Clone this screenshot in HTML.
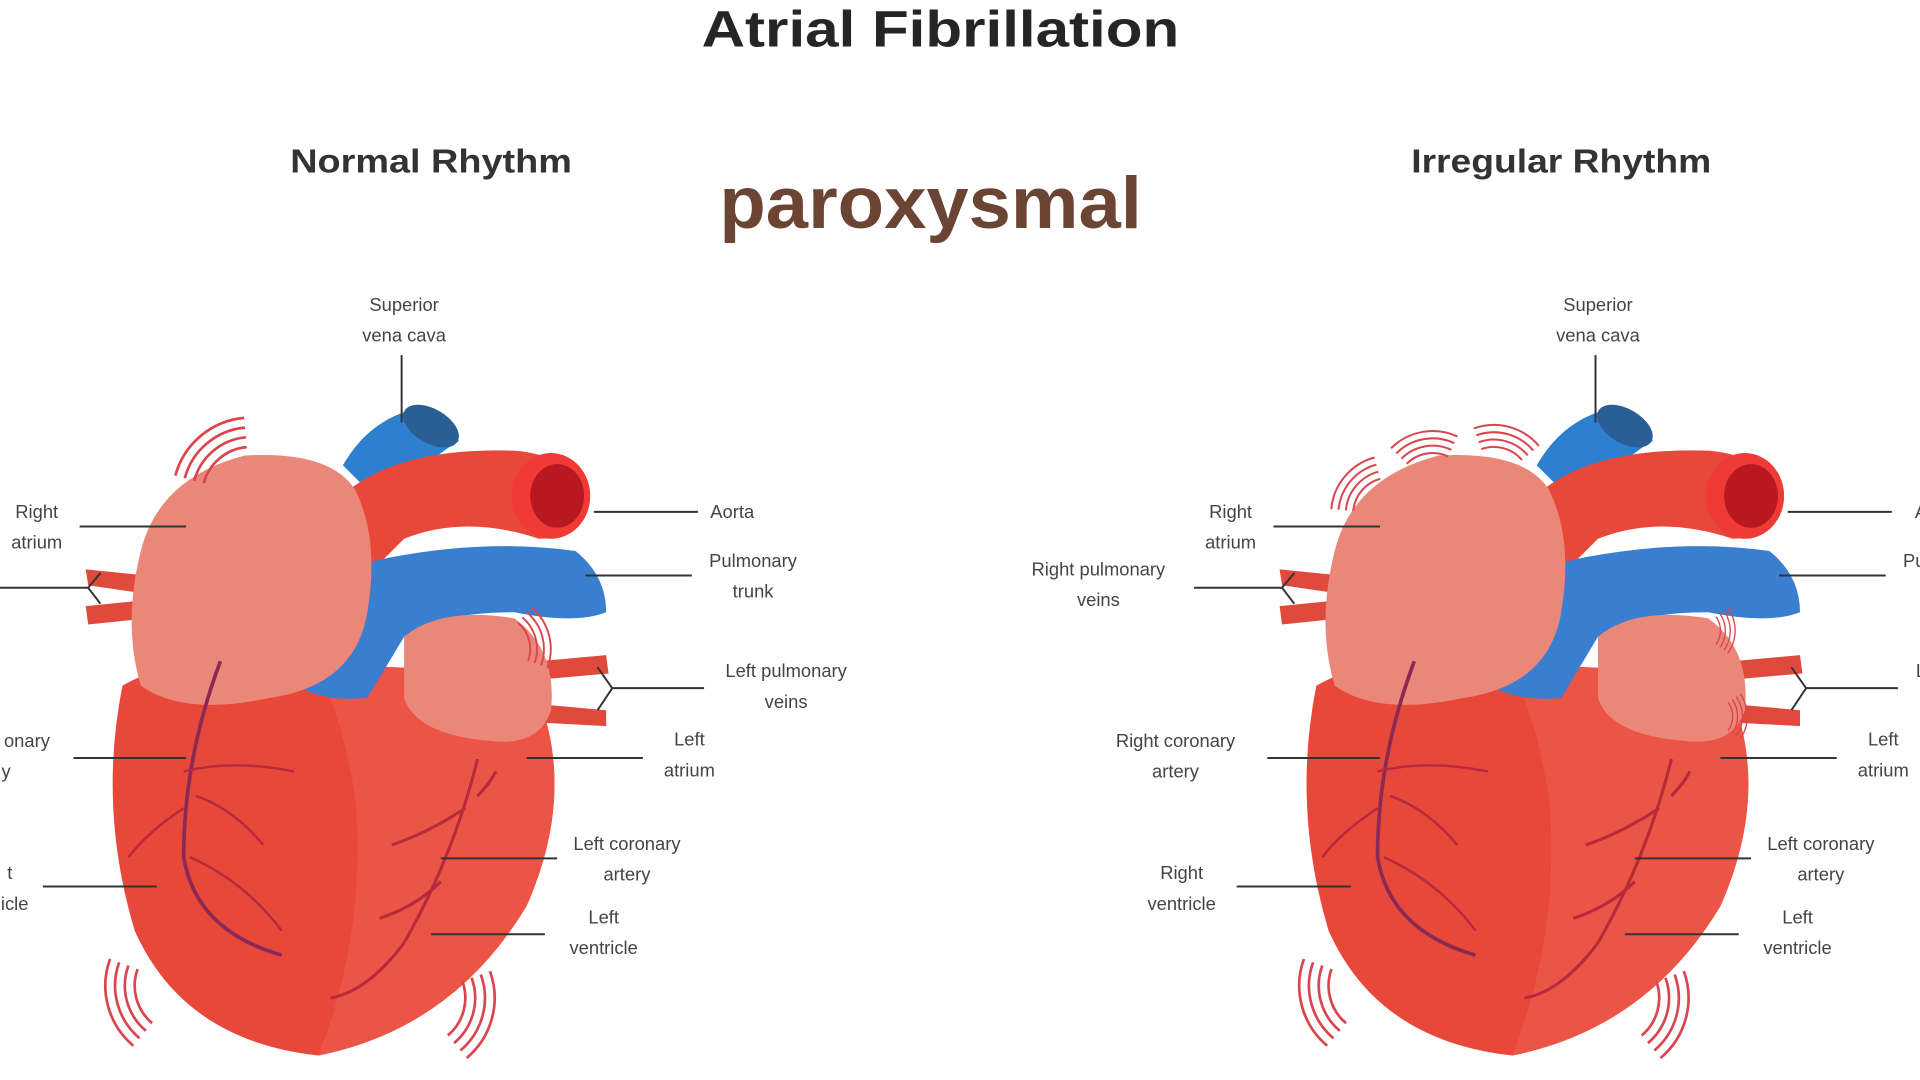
<!DOCTYPE html>
<html><head><meta charset="utf-8"><style>
html,body{margin:0;padding:0;background:#fff;width:1920px;height:1080px;overflow:hidden}
svg{display:block}
text{font-family:"Liberation Sans",sans-serif}
.l{font-size:15px;fill:#444;text-anchor:middle}
.ln{stroke:#333;stroke-width:1.6;fill:none}
.w{stroke:#d9464e;stroke-width:2.2;fill:none}
</style></head><body>
<svg width="1920" height="1080" viewBox="0 0 1568 882" xmlns="http://www.w3.org/2000/svg">
<defs>
<g id="heart">
  <path d="M70 465 L120 470 L120 485 L72 478Z" fill="#e04a3c"/>
  <path d="M70 495 L120 490 L120 505 L72 510Z" fill="#e04a3c"/>
  <path d="M440 540 L495 535 L497 550 L440 555Z" fill="#e04a3c"/>
  <path d="M440 575 L495 580 L495 593 L440 590Z" fill="#e04a3c"/>
  <path d="M280 380 Q300 345 335 335 L375 360 Q340 380 320 420Z" fill="#2f7fd0"/>
  <ellipse cx="352" cy="348" rx="25" ry="14" transform="rotate(30 352 348)" fill="#2a5f96"/>
  <path d="M100 560 Q150 530 260 545 Q380 540 440 570 Q470 650 430 740 Q370 840 260 862 Q150 850 110 760 Q80 660 100 560Z" fill="#e8483a"/>
  <path d="M260 545 Q380 540 440 570 Q470 650 430 740 Q370 840 260 862 Q300 760 290 650 Q280 590 260 545Z" fill="#ec5545"/>
  <path d="M285 400 Q330 365 420 368 Q470 372 480 410 Q470 440 440 440 Q380 420 330 440 L300 470Z" fill="#e8483a"/>
  <ellipse cx="450" cy="405" rx="32" ry="35" fill="#f03a36"/>
  <ellipse cx="455" cy="405" rx="22" ry="26" fill="#b81820"/>
  <path d="M225 545 Q240 470 320 455 Q400 440 470 450 Q495 470 495 500 Q470 510 420 500 Q360 500 330 520 L300 570 Q250 575 225 545Z" fill="#3a7fcf"/>
  <path d="M115 450 Q130 390 200 372 Q270 368 290 400 Q310 440 300 500 Q290 560 220 570 Q150 585 115 560 Q100 510 115 450Z" fill="#eb8779"/>
  <path d="M330 520 Q360 495 420 505 Q455 530 450 580 Q440 610 400 605 Q340 600 330 570Z" fill="#eb8779"/>
  <path d="M180 540 Q150 620 150 700 Q160 760 230 780" stroke="#8a2a54" stroke-width="3" fill="none"/>
  <path d="M150 630 Q190 620 240 630 M155 700 Q200 720 230 760 M160 650 Q190 660 215 690 M150 660 Q120 680 105 700" stroke="#b52a3c" stroke-width="2" fill="none"/>
  <path d="M390 620 Q370 700 330 770 Q300 810 270 815 M380 660 Q350 680 320 690 M360 720 Q340 740 310 750 M390 650 Q400 640 405 630" stroke="#b52a3c" stroke-width="2.5" fill="none"/>
</g>
<g id="waves">
  <path class="w" d="M32.8 -22.9 A40 40 0 0 1 32.8 22.9"/>
  <path class="w" d="M39.3 -27.6 A48 48 0 0 1 39.3 27.6"/>
  <path class="w" d="M45.9 -32.1 A56 56 0 0 1 45.9 32.1"/>
  <path class="w" d="M52.4 -36.7 A64 64 0 0 1 52.4 36.7"/>
</g>
</defs>

<text x="768" y="38" text-anchor="middle" font-size="42" font-weight="bold" fill="#252525" textLength="390" lengthAdjust="spacingAndGlyphs">Atrial Fibrillation</text>
<text x="352" y="141" text-anchor="middle" font-size="27" font-weight="bold" fill="#333" textLength="230" lengthAdjust="spacingAndGlyphs">Normal Rhythm</text>
<text x="1275" y="141" text-anchor="middle" font-size="27" font-weight="bold" fill="#333" textLength="245" lengthAdjust="spacingAndGlyphs">Irregular Rhythm</text>
<text x="760" y="186" text-anchor="middle" font-size="60" font-weight="bold" fill="#6b4433" textLength="345" lengthAdjust="spacingAndGlyphs">paroxysmal</text>

<use href="#heart"/>
<use href="#waves" transform="translate(205 405) rotate(-130)"/>
<use href="#waves" transform="translate(150 805) rotate(165)"/>
<use href="#waves" transform="translate(340 815) rotate(15)"/>
<use href="#waves" transform="translate(405 530) rotate(-15) scale(0.7)"/>
<g>
<text class="l" x="330" y="254">Superior</text><text class="l" x="330" y="279">vena cava</text>
<line class="ln" x1="328" y1="290" x2="328" y2="345"/>
<text class="l" x="30" y="423">Right</text><text class="l" x="30" y="448">atrium</text>
<line class="ln" x1="65" y1="430" x2="152" y2="430"/>
<line class="ln" x1="0" y1="480" x2="72" y2="480"/><path class="ln" d="M72 480 L82 468 M72 480 L82 493"/>
<text class="l" x="22" y="610">onary</text><text class="l" x="5" y="635">y</text>
<line class="ln" x1="60" y1="619" x2="152" y2="619"/>
<text class="l" x="8" y="718">t</text><text class="l" x="12" y="743">icle</text>
<line class="ln" x1="35" y1="724" x2="128" y2="724"/>
<text class="l" x="598" y="423">Aorta</text><line class="ln" x1="485" y1="418" x2="570" y2="418"/>
<text class="l" x="615" y="463">Pulmonary</text><text class="l" x="615" y="488">trunk</text>
<line class="ln" x1="478" y1="470" x2="565" y2="470"/>
<text class="l" x="642" y="553">Left pulmonary</text><text class="l" x="642" y="578">veins</text>
<line class="ln" x1="500" y1="562" x2="575" y2="562"/><path class="ln" d="M500 562 L488 545 M500 562 L488 580"/>
<text class="l" x="563" y="609">Left</text><text class="l" x="563" y="634">atrium</text>
<line class="ln" x1="430" y1="619" x2="525" y2="619"/>
<text class="l" x="512" y="694">Left coronary</text><text class="l" x="512" y="719">artery</text>
<line class="ln" x1="360" y1="701" x2="455" y2="701"/>
<text class="l" x="493" y="754">Left</text><text class="l" x="493" y="779">ventricle</text>
<line class="ln" x1="352" y1="763" x2="445" y2="763"/>
</g>

<g transform="translate(975 0)">
<use href="#heart"/>
<use href="#waves" transform="translate(160 420) rotate(-140) scale(0.75)"/>
<use href="#waves" transform="translate(195 400) rotate(-100) scale(0.75)"/>
<use href="#waves" transform="translate(245 395) rotate(-75) scale(0.75)"/>
<use href="#waves" transform="translate(150 805) rotate(165)"/>
<use href="#waves" transform="translate(340 815) rotate(15)"/>
<use href="#waves" transform="translate(410 515) rotate(0) scale(0.5)"/>
<use href="#waves" transform="translate(420 585) rotate(0) scale(0.5)"/>
<text class="l" x="330" y="254">Superior</text><text class="l" x="330" y="279">vena cava</text>
<line class="ln" x1="328" y1="290" x2="328" y2="345"/>
<text class="l" x="30" y="423">Right</text><text class="l" x="30" y="448">atrium</text>
<line class="ln" x1="65" y1="430" x2="152" y2="430"/>
<text class="l" x="-78" y="470">Right pulmonary</text><text class="l" x="-78" y="495">veins</text>
<line class="ln" x1="0" y1="480" x2="72" y2="480"/><path class="ln" d="M72 480 L82 468 M72 480 L82 493"/>
<text class="l" x="-15" y="610">Right coronary</text><text class="l" x="-15" y="635">artery</text>
<line class="ln" x1="60" y1="619" x2="152" y2="619"/>
<text class="l" x="-10" y="718">Right</text><text class="l" x="-10" y="743">ventricle</text>
<line class="ln" x1="35" y1="724" x2="128" y2="724"/>
<text class="l" x="598" y="423">Ao</text><line class="ln" x1="485" y1="418" x2="570" y2="418"/>
<text class="l" x="590" y="463">Pul</text>
<line class="ln" x1="478" y1="470" x2="565" y2="470"/>
<text class="l" x="598" y="553">Le</text>
<line class="ln" x1="500" y1="562" x2="575" y2="562"/><path class="ln" d="M500 562 L488 545 M500 562 L488 580"/>
<text class="l" x="563" y="609">Left</text><text class="l" x="563" y="634">atrium</text>
<line class="ln" x1="430" y1="619" x2="525" y2="619"/>
<text class="l" x="512" y="694">Left coronary</text><text class="l" x="512" y="719">artery</text>
<line class="ln" x1="360" y1="701" x2="455" y2="701"/>
<text class="l" x="493" y="754">Left</text><text class="l" x="493" y="779">ventricle</text>
<line class="ln" x1="352" y1="763" x2="445" y2="763"/>
</g>
</svg>
</body></html>
